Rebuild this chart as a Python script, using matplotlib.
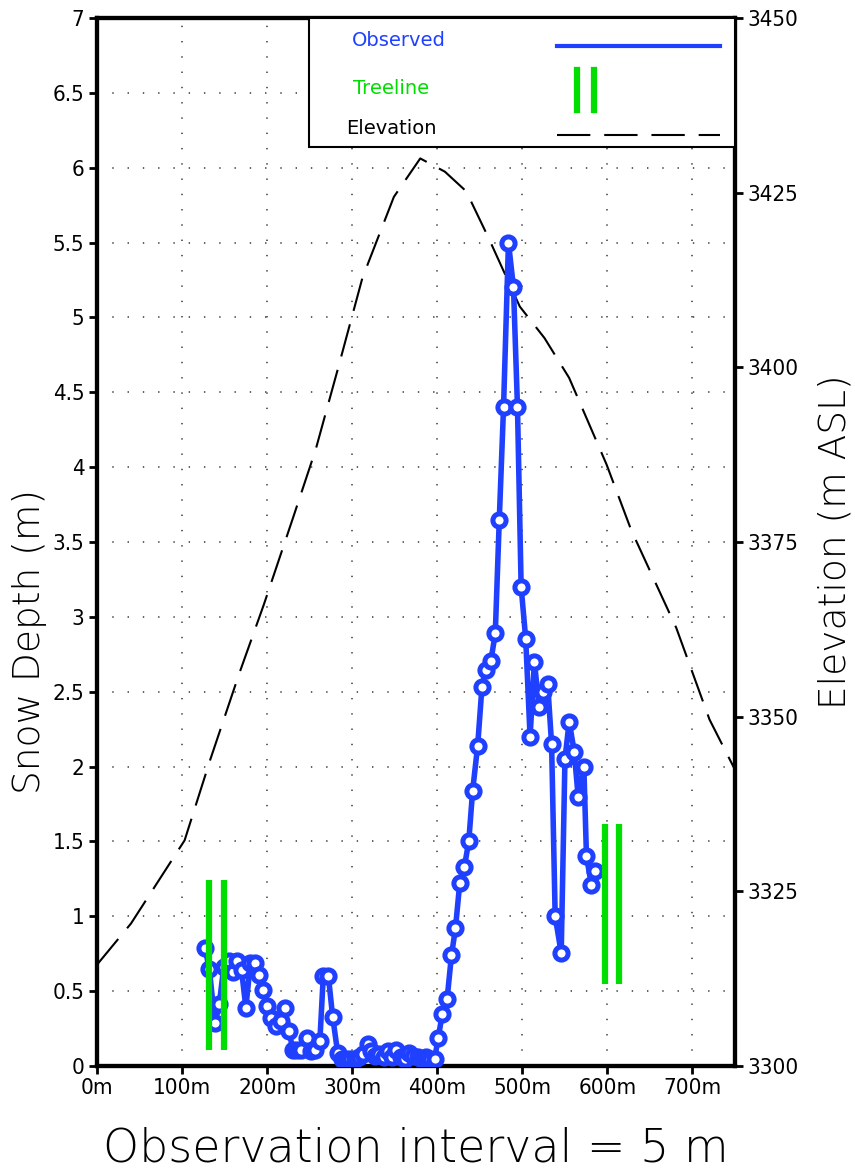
import matplotlib
matplotlib.use("Agg")
import matplotlib.pyplot as plt
from matplotlib.patches import Rectangle
from matplotlib.lines import Line2D

plt.rcParams['font.family'] = ['DejaVu Sans']
plt.rcParams['font.stretch'] = 'condensed'
plt.rcParams['lines.scale_dashes'] = False

# ---- data ----
obs_dist = [127, 132, 138.7, 143.8, 149, 155, 159.4, 164.8, 169.9, 175, 180.4, 185.5,
            190.5, 195.2, 200.3, 205, 210.9, 216.7, 220.6, 225.6, 230.3, 235, 240,
            246.7, 251, 256, 262, 266, 272, 277, 283, 288, 293, 298, 303, 308, 313,
            318, 322, 327, 332, 337, 342, 347, 352, 357, 362, 367, 372, 377, 382,
            387, 392, 397, 401, 406, 411.6, 416.7, 421.4, 426.4, 431.9, 437, 441.6,
            447.5, 452.5, 457.2, 463, 468.2, 472.9, 477.9, 483.7, 489.6, 494.3,
            498.6, 504, 509.1, 514.2, 519.6, 524.7, 529.8, 534.4, 538.6, 545.7,
            550.1, 555.1, 561, 565.6, 572.3, 575.4, 581.2, 585.9]
obs_depth = [0.786, 0.65, 0.285, 0.414, 0.66, 0.70, 0.63, 0.70, 0.64, 0.39, 0.69, 0.69,
             0.61, 0.51, 0.40, 0.32, 0.27, 0.30, 0.385, 0.236, 0.107, 0.107, 0.107,
             0.185, 0.10, 0.11, 0.17, 0.60, 0.60, 0.33, 0.085, 0.05, 0.05, 0.05, 0.05,
             0.06, 0.08, 0.15, 0.10, 0.07, 0.08, 0.06, 0.10, 0.06, 0.11, 0.06, 0.05,
             0.09, 0.07, 0.06, 0.05, 0.06, 0.05, 0.05, 0.185, 0.35, 0.45, 0.74, 0.92,
             1.22, 1.33, 1.50, 1.84, 2.14, 2.53, 2.645, 2.705, 2.89, 3.65, 4.40, 5.50,
             5.20, 4.40, 3.20, 2.85, 2.20, 2.70, 2.40, 2.50, 2.55, 2.15, 1.00, 0.755,
             2.05, 2.30, 2.10, 1.80, 2.00, 1.40, 1.21, 1.30]

elev_dist = [0, 40, 103, 133, 167, 196, 230, 257, 283, 312, 349, 380, 409, 434, 460,
             497, 526, 555, 599, 628, 681, 720, 750]
elev_m = [3314.5, 3320.4, 3332.3, 3343.8, 3356.1, 3366.0, 3378.3, 3388.2, 3399.7,
          3412.8, 3424.4, 3429.9, 3428.0, 3425.2, 3418.6, 3408.7, 3404.2, 3398.5,
          3386.1, 3376.7, 3362.7, 3349.6, 3342.4]

treeline_x = [132, 148.9, 596.8, 613.2]
treeline_bottom = [0.11, 0.11, 0.548, 0.548]
treeline_top = [1.243, 1.243, 1.617, 1.617]

x_ticks = [0, 100, 200, 300, 400, 500, 600, 700]
x_ticklabels = ['0m', '100m', '200m', '300m', '400m', '500m', '600m', '700m']
y_ticks = [0, 0.5, 1, 1.5, 2, 2.5, 3, 3.5, 4, 4.5, 5, 5.5, 6, 6.5, 7]
y_ticklabels = ['0', '0.5', '1', '1.5', '2', '2.5', '3', '3.5', '4', '4.5', '5', '5.5',
                '6', '6.5', '7']
elev_ticks = [3300, 3325, 3350, 3375, 3400, 3425, 3450]

BLUE = '#2040ff'
GREEN = '#00dd00'

fig = plt.figure(figsize=(8.55, 11.72), dpi=100)
ax = fig.add_axes([97/855, (1172-1066)/1172, (735-97)/855, (1066-18)/1172])
ax2 = ax.twinx()

ax.set_xlim(0, 750)
ax.set_ylim(0, 7)
ax2.set_ylim(3300, 3450)

# grid
for xv in x_ticks[1:]:
    ax.plot([xv, xv], [0, 7], color='#555555', lw=1.3, linestyle=(0, (1, 10)), zorder=1)
for yv in y_ticks[1:-1]:
    ax.plot([0, 750], [yv, yv], color='#555555', lw=1.3, linestyle=(0, (1, 10)), zorder=1)

# elevation
ax2.plot(elev_dist, elev_m, color='black', lw=1.5, linestyle=(0, (24, 10)))

# observed
ax.set_zorder(ax2.get_zorder() + 1)
ax.patch.set_visible(False)
ax.plot(obs_dist, obs_depth, color=BLUE, lw=4, marker='o', ms=9.5, mfc='white',
        mec=BLUE, mew=3.6, zorder=3)

# treeline
ax.vlines(treeline_x, treeline_bottom, treeline_top, color=GREEN, lw=4.5, zorder=4)

# ticks
ax.set_xticks(x_ticks)
ax.set_xticklabels(x_ticklabels)
ax.set_yticks(y_ticks)
ax.set_yticklabels(y_ticklabels)
ax2.set_yticks(elev_ticks)
ax2.set_yticklabels([str(v) for v in elev_ticks])
for a in (ax, ax2):
    a.tick_params(direction='out', length=6, width=2, labelsize=16, pad=3)
    for s in a.spines.values():
        s.set_linewidth(3)

fig.text(30/855, 1 - 642/1172, 'Snow Depth (m)', fontsize=27, rotation=90,
         ha='center', va='center', fontweight='light', fontstretch='normal')
fig.text(835/855, 1 - 542/1172, 'Elevation (m ASL)', fontsize=27, rotation=90,
         ha='center', va='center', fontweight='light', fontstretch='normal')
fig.text(416/855, 1 - 1148/1172, 'Observation interval = 5 m', fontsize=33,
         ha='center', va='center', fontweight='light', fontstretch='normal')

# legend box
lg_z = 10
ax.add_patch(Rectangle((0.332, 0.877), 0.668, 0.123, transform=ax.transAxes,
                       facecolor='white', edgecolor='black', lw=1.5, zorder=lg_z,
                       clip_on=False))
ax.text(0.400, 0.979, 'Observed', color=BLUE, fontsize=14, transform=ax.transAxes,
        va='center', ha='left', zorder=lg_z + 1, fontstretch='normal')
ax.text(0.401, 0.933, 'Treeline', color=GREEN, fontsize=14, transform=ax.transAxes,
        va='center', ha='left', zorder=lg_z + 1, fontstretch='normal')
ax.text(0.390, 0.895, 'Elevation', color='black', fontsize=14, transform=ax.transAxes,
        va='center', ha='left', zorder=lg_z + 1, fontstretch='normal')
ax.add_line(Line2D([0.721, 0.976], [0.973, 0.973], color=BLUE, lw=3,
                   transform=ax.transAxes, zorder=lg_z + 1))
ax.add_line(Line2D([0.752, 0.752], [0.912, 0.950], color=GREEN, lw=4.5,
                   transform=ax.transAxes, zorder=lg_z + 1))
ax.add_line(Line2D([0.779, 0.779], [0.912, 0.950], color=GREEN, lw=4.5,
                   transform=ax.transAxes, zorder=lg_z + 1))
ax.add_line(Line2D([0.721, 0.976], [0.888, 0.888], color='black', lw=1.5,
                   linestyle=(0, (24, 10)), transform=ax.transAxes, zorder=lg_z + 1))

fig.savefig('out.png', dpi=100)
